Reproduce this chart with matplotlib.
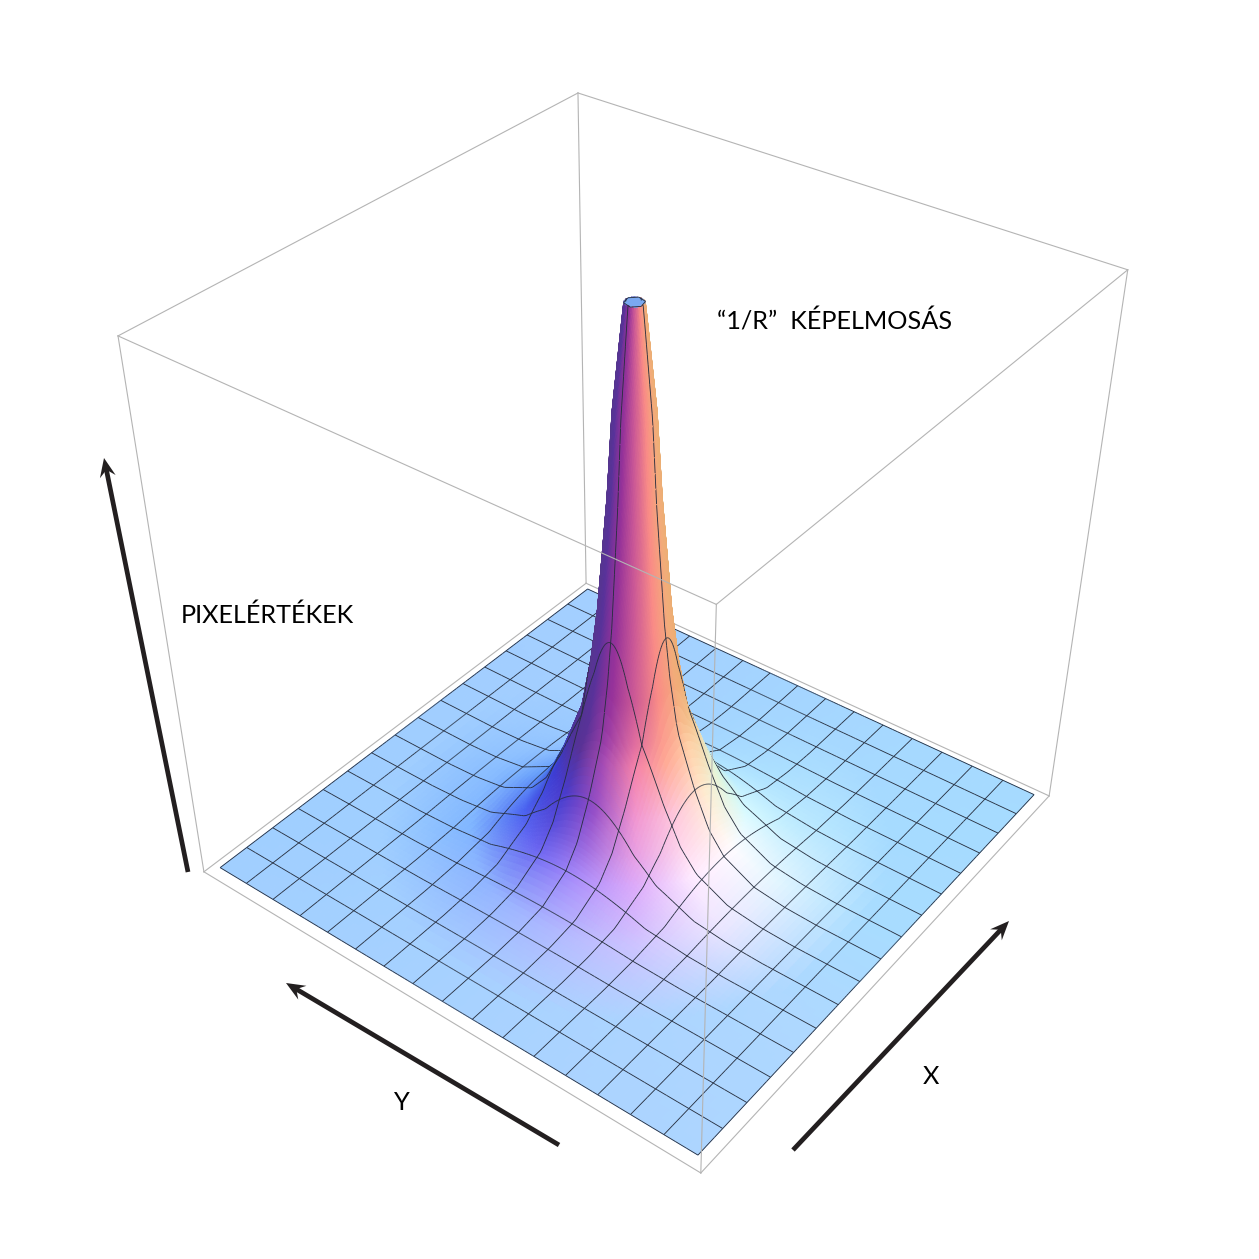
import numpy as np
import matplotlib
matplotlib.use("Agg")
import matplotlib.pyplot as plt
from matplotlib.patches import Polygon
from matplotlib.colors import to_rgb
from mpl_toolkits.mplot3d.art3d import Poly3DCollection

W = 1259
MESH_CELLS = 16
SURF_HALF = 0.962
SURF_Z0 = 0.006
BOX_XYZ = [(-1,-1,0),(1,-1,0),(-1,1,0),(1,1,0),(-1,-1,1),(1,-1,1),(-1,1,1),(1,1,1)]
BOX_PIXELS = [(701,1173),(1049,796),(204,872),(586,583),(716,604),(1128,270),(118,336),(578,93)]

RADIUS_CELLS = [0,0.25,0.3,0.54,0.68,0.95,1.14,1.41,1.8,2.0,2.5,3.0,4.0,5.0,6.0,8.0,12.0]
HEIGHT       = [1.0,1.0,0.97,0.82,0.67,0.46,0.36,0.26,0.19,0.155,0.085,0.045,0.012,0.003,0,0,0]

AZIMUTH_DEG = [-180,-150,-120,-90,-60,-30,0,30,60,90,120,150]
COLOR_RADII = [0.25,1.2,1.6,2.1,3.0,4.5,7.0]
C_PEAK = ['#8a4f9a','#6a4f95','#56378c','#55378c','#58329a','#96329a','#cd5a96','#fa8c87','#f3ac7a','#ebaf73','#e8b080','#b87a90']
C_R16  = ['#8088c0','#6060b0','#4b3aa0','#4b3296','#5a3296','#a54bb4','#f582aa','#ffaa96','#ffd2aa','#f5d2a0','#e0d8c0','#b0c8e0']
C_R21  = ['#90b8f0','#6ea0f0','#3c78e6','#3c3cd2','#4a3ccc','#9650c8','#f096d2','#ffc8dc','#ffebd0','#e6f5d8','#c8f0f0','#a8d8f8']
C_R30  = ['#9cccff','#8cbcff','#649cfa','#4a62f0','#6a64f0','#aa8cfa','#dcaafa','#ffebff','#fffcff','#d7faff','#b8eaff','#a8dcff']
C_R45  = ['#a0ceff','#98c8ff','#88bcff','#80b6ff','#90b4ff','#aeb8ff','#cdc3ff','#ebe6ff','#e1f5ff','#beebff','#ace0ff','#a4d6ff']
C_R70  = ['#a4d0ff','#a2ceff','#a0ceff','#a0cfff','#a4d0ff','#a8d2ff','#acd4ff','#aed8ff','#a8dcff','#a6dbff','#a6d8ff','#a4d4ff']
COLOR_ROWS = [C_PEAK,C_PEAK,C_R16,C_R21,C_R30,C_R45,C_R70]
TOP_COLOR = '#7aa8f0'
MESH_COLOR = '#262e3e'
BOX_COLOR = '#b4b4b4'
ARROW_COLOR = '#231f20'

def fit_camera(xyz, px):
    A = []
    for (x,y,z),(u,v) in zip(xyz,px):
        A.append([x,y,z,1,0,0,0,0,-u*x,-u*y,-u*z,-u])
        A.append([0,0,0,0,x,y,z,1,-v*x,-v*y,-v*z,-v])
    P = np.linalg.svd(np.array(A,float))[2][-1].reshape(3,4)
    if P[2,3] < 0: P = -P
    return P / np.linalg.norm(P[2,:3])

P = fit_camera(BOX_XYZ, BOX_PIXELS)

fig = plt.figure(figsize=(W/100,W/100),dpi=100,facecolor='white')
ax = fig.add_axes([0,0,1,1],projection='3d',computed_zorder=False)
ax.set_axis_off()
ax.patch.set_visible(False)
ax.set_proj_type('ortho')

vl = ax.viewLim.frozen()
A = np.array([[(vl.x1-vl.x0)/W,0,vl.x0],[0,-(vl.y1-vl.y0)/W,vl.y1],[0,0,1]])
Pm = A @ P
Pm = Pm / (P[2] @ np.array([0,0,0.3,1]))
M = np.vstack([Pm[0],Pm[1],Pm[2]-np.array([0,0,0,1.0]),Pm[2]])
ax.get_proj = lambda: M
cam = np.linalg.svd(P)[2][-1]; cam = cam[:3]/cam[3]

cell = SURF_HALF*2/MESH_CELLS
ef = cam[:2]/np.hypot(*cam[:2])
er = np.array([-ef[1],ef[0]])
top_rho = RADIUS_CELLS[1]

def height(x,y):
    return SURF_Z0 + (1-SURF_Z0)*np.interp(np.hypot(x,y)/cell,RADIUS_CELLS,HEIGHT)

rows = np.array([[to_rgb(c) for c in row] for row in COLOR_ROWS])
az = np.array(AZIMUTH_DEG+[180.0])
rad = np.array(COLOR_RADII)
def colour(x,y):
    rho = np.hypot(x,y)/cell
    th = np.degrees(np.arctan2(x*er[0]+y*er[1],x*ef[0]+y*ef[1]))
    i = np.clip(np.searchsorted(az,th,side='right')-1,0,11)
    t = ((th-az[i])/30.0)[...,None]
    j = np.clip(np.searchsorted(rad,rho,side='right')-1,0,len(rad)-2)
    q = np.clip((rho-rad[j])/(rad[j+1]-rad[j]),0,1)[...,None]
    i2 = (i+1)%12
    c = (1-q)*((1-t)*rows[j,i]+t*rows[j,i2]) + q*((1-t)*rows[j+1,i]+t*rows[j+1,i2])
    return np.clip(c,0,1)

c1 = np.arange(-48,49)*cell/40
c2 = np.arange(1.2*cell+cell/12,3*cell,cell/12)
c3 = np.arange(3*cell,6*cell,cell/6)
c4 = np.arange(6*cell,SURF_HALF-1e-6,cell/3)
pos = np.concatenate([c2,c3,c4])
xs = np.concatenate([[-SURF_HALF],-pos[::-1],c1,pos,[SURF_HALF]])
XX,YY = np.meshgrid(xs,xs,indexing='ij')
ZZ = height(XX,YY)
quads = np.stack([np.stack([XX[:-1,:-1],YY[:-1,:-1],ZZ[:-1,:-1]],-1),
                  np.stack([XX[1:,:-1],YY[1:,:-1],ZZ[1:,:-1]],-1),
                  np.stack([XX[1:,1:],YY[1:,1:],ZZ[1:,1:]],-1),
                  np.stack([XX[:-1,1:],YY[:-1,1:],ZZ[:-1,1:]],-1)],axis=2).reshape(-1,4,3)
face = colour(quads[:,:,0].mean(1),quads[:,:,1].mean(1))
flat_top = np.hypot(quads[:,:,0],quads[:,:,1]).max(1)/cell <= top_rho
face[flat_top] = to_rgb(TOP_COLOR)

segs = []
for k in range(MESH_CELLS+1):
    g = -SURF_HALF + k*cell
    for swap in (False,True):
        b = np.full_like(xs,g)
        X,Y = (b,xs) if swap else (xs,b)
        pts = np.stack([X,Y,height(X,Y)],-1)
        rho = np.hypot(X,Y)/cell
        for n in range(len(xs)-1):
            if rho[n] < top_rho and rho[n+1] < top_rho:
                continue
            segs.append([pts[n],pts[n+1],pts[n+1],pts[n]])
# outline of the clipped top
hexa = np.radians(np.arange(0,361,60)+15)
top_r = top_rho*cell*1.02
for n in range(6):
    p0 = np.array([top_r*np.cos(hexa[n]),top_r*np.sin(hexa[n]),1.0])
    p1 = np.array([top_r*np.cos(hexa[n+1]),top_r*np.sin(hexa[n+1]),1.0])
    segs.append([p0,p1,p1,p0])
segs = np.array(segs)
# slide each segment along its sight line so it sorts just in front of its own faces
seg_rho = np.hypot(segs[:,:,0],segs[:,:,1]).mean(1)/cell
nudge = np.where(seg_rho < 2.0, 0.004, 0.01)[:,None,None]
segs = segs + nudge*(cam-segs)

verts = np.concatenate([quads,segs])
mesh_rgb = np.array(to_rgb(MESH_COLOR))
fc = np.concatenate([face,np.tile(mesh_rgb,(len(segs),1))])
coll = Poly3DCollection(verts,facecolors=fc,edgecolors=fc.copy(),linewidths=0.62,zorder=2)
ax.add_collection3d(coll,autolim=False)

edges_back = [(3,7),(1,3),(2,3),(5,7),(6,7),(1,5),(2,6)]
edges_front = [(0,4),(4,5),(4,6),(0,1),(0,2)]
for e,z in [(edges_back,1),(edges_front,3)]:
    for i,j in e:
        pa,pb = np.array(BOX_XYZ[i]),np.array(BOX_XYZ[j])
        ax.plot([pa[0],pb[0]],[pa[1],pb[1]],[pa[2],pb[2]],color=BOX_COLOR,lw=0.8,zorder=z)

ov = fig.add_axes([0,0,1,1],zorder=5)
ov.set_xlim(0,W); ov.set_ylim(W,0); ov.axis('off'); ov.patch.set_visible(False)

ARROWS = [((188,872),(104,458)),((559,1145),(286,983)),((793,1150),(1009,921))]
for tail,tip in ARROWS:
    t,h = np.array(tail,float),np.array(tip,float)
    d = (h-t)/np.hypot(*(h-t)); n = np.array([-d[1],d[0]])
    ov.plot(*zip(t,h-d*8),color=ARROW_COLOR,lw=3.4,solid_capstyle='butt')
    ov.add_patch(Polygon([h,h-d*19+n*8,h-d*12,h-d*19-n*8],closed=True,fc=ARROW_COLOR,ec='none'))

TEXTS = [("“1/R”  KÉPELMOSÁS",835,321),("PIXELÉRTÉKEK",267,615),("Y",402,1103),("X",931,1076)]
for s,x,y in TEXTS:
    ov.text(x,y,s,family='Lato',fontsize=18.2,color='black',ha='center',va='center')
fig.savefig('out.png',dpi=100)
